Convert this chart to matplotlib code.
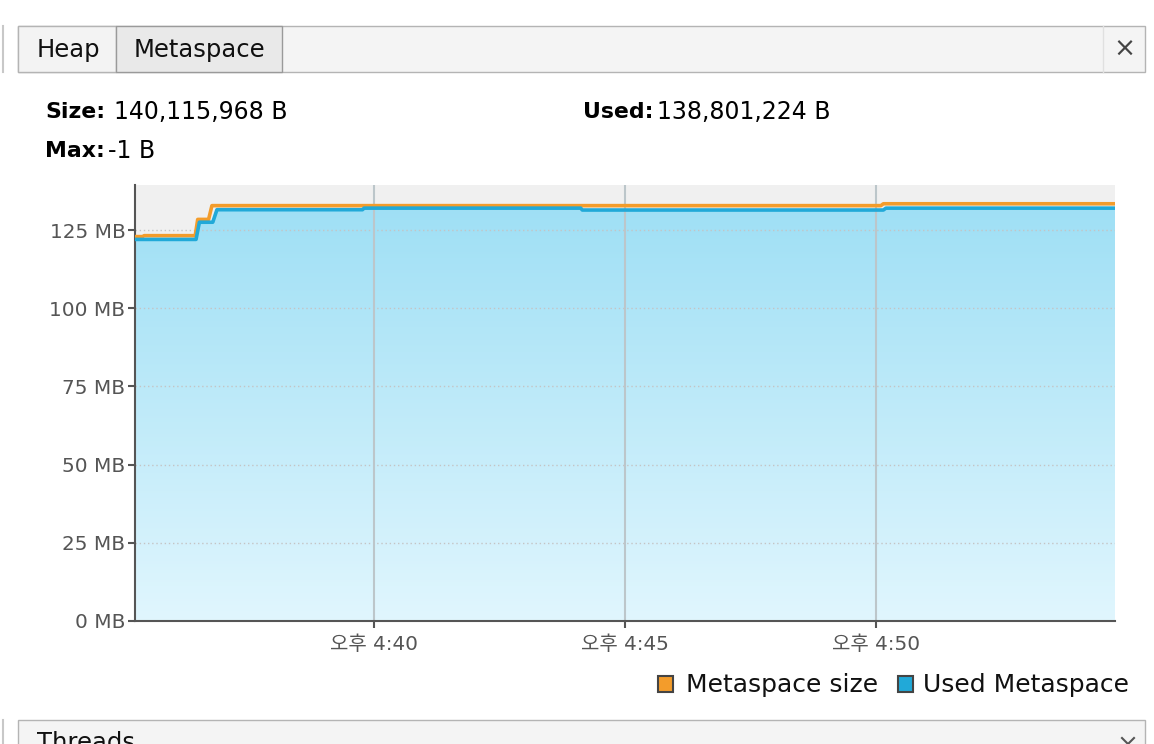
import matplotlib
matplotlib.use("Agg")
import matplotlib.pyplot as plt
import matplotlib.dates as mdates
from matplotlib.patches import Rectangle
from matplotlib.lines import Line2D
from matplotlib.ticker import FuncFormatter
import numpy as np
import pandas as pd

# --- data (MB) ---
day = "2024-01-01 "
size_times = ["16:35:14", "16:35:23", "16:35:25", "16:36:26", "16:36:29",
              "16:36:42", "16:36:46", "16:50:06", "16:50:09", "16:54:46"]
size_mb = [122.9, 122.9, 123.2, 123.2, 128.4, 128.4, 132.8, 132.8, 133.4, 133.4]

used_times = ["16:35:14", "16:36:27", "16:36:31", "16:36:47", "16:36:52",
              "16:39:46", "16:39:48", "16:44:07", "16:44:09", "16:50:09",
              "16:50:12", "16:54:46"]
used_mb = [122.0, 122.0, 127.5, 127.5, 131.5, 131.5, 132.0, 132.0,
           131.4, 131.4, 132.0, 132.0]

y_ticks = [0, 25, 50, 75, 100, 125]
x_ticks = ["16:40:00", "16:45:00", "16:50:00"]
x_range = ["16:35:14", "16:54:46"]
y_top = 139.4

size_label = "140,115,968 B"
used_label = "138,801,224 B"
max_label = "-1 B"

ORANGE = "#f39c2b"
BLUE = "#21a9d8"
TXT = "#555555"
FONT = ["DejaVu Sans", "Noto Sans CJK KR"]
plt.rcParams["font.family"] = FONT

W, H = 1154, 744
fig = plt.figure(figsize=(W / 100, H / 100), dpi=100)


def fx(x):
    return x / W


def fy(y):
    return 1 - y / H


def box(x0, y0, x1, y1, fc, ec, lw=1.0):
    fig.patches.append(Rectangle((fx(x0), fy(y1)), (x1 - x0) / W, (y1 - y0) / H,
                                 transform=fig.transFigure, fc=fc, ec=ec, lw=lw))


def line(xs, ys, c, lw=1.0):
    fig.lines.append(Line2D([fx(x) for x in xs], [fy(y) for y in ys],
                            transform=fig.transFigure, color=c, lw=lw))


# tab bar
line([3, 3], [26, 72], "#c8c8c8", 1.5)
box(18, 26, 1145, 72, "#f4f4f4", "#b4b4b4")
box(18, 26, 116, 72, "#f3f3f3", "#b4b4b4")
box(116, 26, 282, 72, "#e9e9e9", "#9a9a9a")
line([1103, 1103], [26, 72], "#e0e0e0")
fig.text(fx(37), fy(50), "Heap", fontsize=17.5, va="center", color="#111111")
fig.text(fx(134), fy(50), "Metaspace", fontsize=17.5, va="center", color="#111111")
fig.text(fx(1124), fy(50), "\u00d7", fontsize=19, va="center", ha="center",
         color="#444444")

# header info
fig.text(fx(45), fy(112), "Size:", fontsize=15.8, fontweight="bold", va="center")
fig.text(fx(114), fy(112), size_label, fontsize=17, va="center")
fig.text(fx(583), fy(112), "Used:", fontsize=15.8, fontweight="bold", va="center")
fig.text(fx(657), fy(112), used_label, fontsize=17, va="center")
fig.text(fx(45), fy(151), "Max:", fontsize=15.8, fontweight="bold", va="center")
fig.text(fx(108), fy(151), max_label, fontsize=17, va="center")

# bottom panel
line([3, 3], [720, 744], "#c8c8c8", 1.5)
box(18, 720, 1145, 770, "#f4f4f4", "#b4b4b4")
fig.text(fx(37), fy(731), "Threads", fontsize=17.5, va="top", color="#111111")
line([1122, 1128, 1134], [738, 744, 738], "#555555", 1.5)

# chart
ax = fig.add_axes([fx(135), 123 / H, (1115 - 135) / W, (621 - 185) / H])
ax.set_facecolor("#f0f0f0")

st = mdates.date2num(pd.to_datetime([day + t for t in size_times]))
ut = mdates.date2num(pd.to_datetime([day + t for t in used_times]))
xr = mdates.date2num(pd.to_datetime([day + t for t in x_range]))
xt = mdates.date2num(pd.to_datetime([day + t for t in x_ticks]))

poly = ax.fill_between(ut, used_mb, 0, color="none", lw=0)
grad = np.linspace(0, 1, 256).reshape(-1, 1)
top_c = np.array([0.62, 0.875, 0.96])
bot_c = np.array([0.88, 0.965, 0.995])
img = top_c * (1 - grad[..., None]) + bot_c * grad[..., None]
img = img.reshape(256, 1, 3)
im = ax.imshow(img, aspect="auto", extent=[xr[0], xr[1], 0, 134], origin="upper",
               zorder=1)
im.set_clip_path(poly.get_paths()[0], transform=ax.transData)

for v in y_ticks[1:]:
    ax.axhline(v, color="#c4c4c4", lw=1, ls=(0, (1, 2)), zorder=2)
for v in xt:
    ax.axvline(v, color="#bcc6ca", lw=1.5, zorder=2)

ax.plot(st, size_mb, color=ORANGE, lw=2.6, zorder=3, solid_joinstyle="round")
ax.plot(ut, used_mb, color=BLUE, lw=2.6, zorder=4, solid_joinstyle="round")

ax.set_xlim(xr[0], xr[1])
ax.set_ylim(0, y_top)
ax.set_yticks(y_ticks)
ax.yaxis.set_major_formatter(FuncFormatter(lambda v, p: f"{int(v)} MB"))
ax.set_xticks(xt)
ax.xaxis.set_major_formatter(FuncFormatter(
    lambda v, p: "오후 " + mdates.num2date(v).strftime("%I:%M").lstrip("0")))
for s in ["top", "right"]:
    ax.spines[s].set_visible(False)
for s in ["left", "bottom"]:
    ax.spines[s].set_color("#555555")
    ax.spines[s].set_linewidth(1.5)
ax.tick_params(colors="#555555", labelcolor=TXT, labelsize=14.4, length=5, width=1.5,
               pad=2)
ax.tick_params(axis="x", pad=5)

# legend
box(658, 676, 673, 692, ORANGE, "#444444", 1.5)
fig.text(fx(686), fy(685), "Metaspace size", fontsize=18, va="center", color="#111111")
box(898, 676, 913, 692, BLUE, "#444444", 1.5)
fig.text(fx(923), fy(685), "Used Metaspace", fontsize=18, va="center", color="#111111")

fig.savefig("out.png", dpi=100, facecolor="white")
